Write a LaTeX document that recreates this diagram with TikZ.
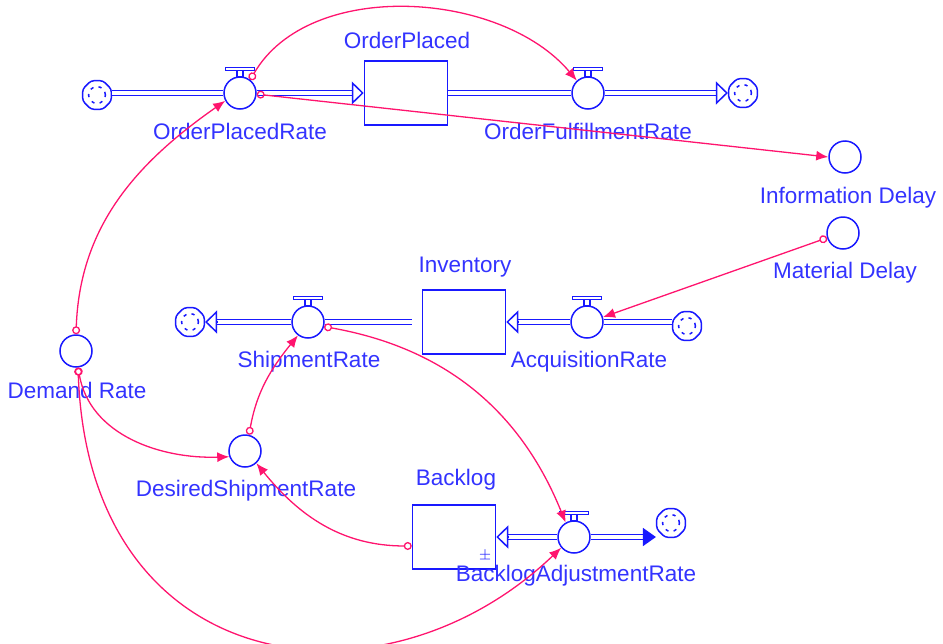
\documentclass[tikz,border=0pt]{standalone}
\usepackage{fontspec}
\setmainfont{Liberation Sans}
\usetikzlibrary{arrows.meta,shapes.geometric}
\definecolor{sdblue}{RGB}{25,25,255}
\definecolor{sdtext}{RGB}{51,51,255}
\definecolor{sdpink}{RGB}{255,20,110}

\begin{document}
\begin{tikzpicture}
[x=0.5pt,y=0.5pt,
  stockDecorate/.style={shape=rectangle,draw=sdblue,line width=0.75pt,
    minimum width=41.5pt,minimum height=32pt,inner sep=0pt},
  valveDecorate/.style={shape=circle,draw=sdblue,line width=0.75pt,minimum size=16pt,inner sep=0pt},
  auxDecorate/.style={shape=circle,draw=sdblue,line width=0.75pt,minimum size=16pt,inner sep=0pt},
  cloudDecorate/.style={shape=regular polygon,regular polygon sides=8,draw=sdblue,line width=0.75pt,
    minimum size=15.5pt,inner sep=0pt,rounded corners=1.5pt,
    path picture={\draw[sdblue,line width=0.75pt,dash pattern=on 1.6pt off 2.6pt]
      (path picture bounding box.center) circle (4.2pt);}},
  labelDecorate/.style={text=sdtext,font=\fontsize{11.25}{13}\selectfont,inner sep=0pt},
  pipeDecorate/.style={draw=sdblue,double,double distance=1.6pt,line width=0.7pt},
  pipeTip/.style={draw=sdblue,line width=0.75pt,-{Triangle[open,length=6pt,width=11.5pt]}},
  pipeTipFilled/.style={draw=sdblue,fill=sdblue,line width=0.75pt,-{Triangle[length=6.5pt,width=9pt]}},
  linkDecorate/.style={draw=sdpink,line width=0.65pt,
    {Circle[open,length=4pt,width=4pt]}-{Latex[length=6pt,width=5pt]}}]
\useasboundingbox (0,0) rectangle (943,-643);
%% stocks
\foreach \nodename/\x/\y in {orderplaced/406/93, inventory/464/322, backlog/454/537}
  \node (\nodename) at (\x,-\y) [stockDecorate] {};
\node (blgsign) at (485,-556) [text=sdblue,font=\fontsize{7}{8}\selectfont,inner sep=0pt] {$\pm$};
%% valves with their handles
\foreach \nodename/\x/\y in {opr/240/93, ofr/588/93, shr/308/322, acqr/587/322, bar/574/537}
{
  \node (\nodename) at (\x,-\y) [valveDecorate] {};
  \draw[sdblue,line width=0.75pt] ([xshift=-1.5pt]\nodename.north) rectangle ([xshift=1.5pt,yshift=3pt]\nodename.north);
  \draw[sdblue,line width=0.75pt] ([xshift=-7.25pt,yshift=3pt]\nodename.north) rectangle ([xshift=7.25pt,yshift=4.5pt]\nodename.north);
}
%% auxiliaries and clouds
\foreach \nodename/\x/\y in {infodelay/845/157, matdelay/843/233, demand/76/351, desired/245/451}
  \node (\nodename) at (\x,-\y) [auxDecorate] {};
\foreach \nodename/\x/\y in {cloudA/97/95, cloudB/743/93, cloudC/190/322, cloudD/687/326, cloudE/671/523}
  \node (\nodename) at (\x,-\y) [cloudDecorate] {};
\coordinate (cloudE-in) at (cloudE.west |- bar);
%% labels
\foreach \nodename/\x/\y/\caption in {
  orderplaced/407/40/OrderPlaced, opr/240/131/OrderPlacedRate, ofr/588/131/OrderFulfillmentRate,
  infodelay/848/198/Information Delay, matdelay/845/273/Material Delay, inventory/465/267/Inventory,
  shr/309/362/ShipmentRate, acqr/589/362/AcquisitionRate, demand/77/390/Demand Rate,
  desired/246/491/DesiredShipmentRate, backlog/456/480/Backlog, bar/576/576/BacklogAdjustmentRate}
  \node (\nodename-lbl) at (\x,-\y) [labelDecorate] {\caption};
%% flows
\draw[pipeDecorate] (cloudA.east |- opr) -- (opr.west);
\draw[pipeDecorate] (opr.east) -- ([xshift=-6pt]orderplaced.west);
\draw[pipeTip] ([xshift=-6pt]orderplaced.west) -- (orderplaced.west);
\draw[pipeDecorate] (orderplaced.east) -- (ofr.west);
\draw[pipeDecorate] (ofr.east) -- ([xshift=-6pt]cloudB.west);
\draw[pipeTip] ([xshift=-6pt]cloudB.west) -- (cloudB.west);
\draw[pipeDecorate] ([xshift=-5pt]inventory.west) -- (shr.east);
\draw[pipeDecorate] (shr.west) -- ([xshift=6pt]cloudC.east);
\draw[pipeTip] ([xshift=6pt]cloudC.east) -- (cloudC.east);
\draw[pipeDecorate] (cloudD.west |- acqr) -- (acqr.east);
\draw[pipeDecorate] (acqr.west) -- ([xshift=6pt]inventory.east);
\draw[pipeTip] ([xshift=6pt]inventory.east) -- (inventory.east);
\draw[pipeDecorate] (bar.west) -- ([xshift=6pt]backlog.east);
\draw[pipeTip] ([xshift=6pt]backlog.east) -- (backlog.east);
\draw[pipeDecorate] (bar.east) -- ([xshift=-6.5pt]cloudE-in);
\draw[pipeTipFilled] ([xshift=-6.5pt]cloudE-in) -- (cloudE-in);
%% links
\draw[linkDecorate] (opr.52) to[out=60,in=130,looseness=0.92] (ofr.132);
\draw[linkDecorate] (opr.-4) -- (infodelay.west);
\draw[linkDecorate] (matdelay.197) -- (acqr.17);
\draw[linkDecorate] (demand.90) to[out=88,in=215] (opr.208);
\draw[linkDecorate] (demand.-83) to[out=-80,in=182] (desired.200);
\draw[linkDecorate] (demand.-83) .. controls +(11,-313) and +(-178,-170) .. (bar.220);
\draw[linkDecorate] (desired.76) to[out=80,in=231] (shr.233);
\draw[linkDecorate] (shr.-16) to[out=-10,in=112] (bar.120);
\draw[linkDecorate] (backlog.192) to[out=180,in=-51] (desired.-47);
\end{tikzpicture}
\end{document}
